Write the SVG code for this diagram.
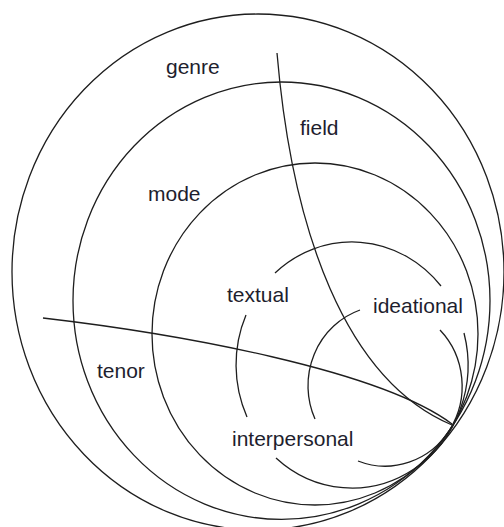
<svg xmlns="http://www.w3.org/2000/svg" width="504" height="527" viewBox="0 0 504 527">
<style>
.c{fill:none;stroke:#1e1e1e;stroke-width:1.3}
.t{font-family:"Liberation Sans",Arial,sans-serif;font-size:21px;fill:#1e1e2e}
</style>
<rect width="504" height="527" fill="#fff"/>
<g id="genre">
<ellipse class="c" cx="258" cy="272" rx="246" ry="258"/>
<text class="t" x="166" y="74">genre</text>
</g>
<g id="register">
<ellipse class="c" cx="281.5" cy="300.7" rx="208.5" ry="218.7"/>
<text class="t" x="300" y="135">field</text>
<text class="t" x="97" y="378">tenor</text>
</g>
<g id="mode">
<ellipse class="c" cx="315" cy="334" rx="163" ry="171"/>
<text class="t" x="148" y="201">mode</text>
</g>
<g id="textual">
<path class="c" d="M275,273 A116,123 0 0 1 441,286"/>
<path class="c" d="M246,315 A116,123 0 0 0 247,417"/>
<path class="c" d="M464,333 A116,123 0 0 1 276,458"/>
<text class="t" x="227" y="302">textual</text>
</g>
<g id="ideational">
<path class="c" d="M360,310 A77,80 0 0 0 315,419"/>
<path class="c" d="M440,330 A77,80 0 0 1 358,461"/>
<text class="t" x="373" y="313">ideational</text>
</g>
<g id="interpersonal">
<text class="t" x="232" y="446">interpersonal</text>
</g>
<g id="connectors">
<path class="c" d="M277,53 C292,230 345,380 452,425"/>
<path class="c" d="M43,318 C180,334 380,370 452,424"/>
</g>
</svg>
